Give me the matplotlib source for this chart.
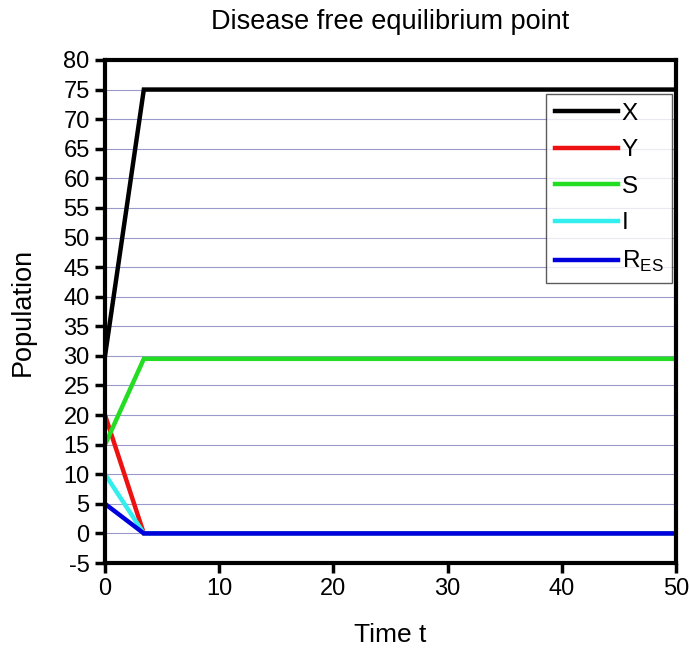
import matplotlib
matplotlib.use("Agg")
import matplotlib.pyplot as plt

plt.rcParams["font.family"] = ["Liberation Sans", "DejaVu Sans"]
plt.rcParams["axes.unicode_minus"] = False

# time points: start, equilibrium reached, end
t = [0, 3.4, 50]
X = [30, 75, 75]
Y = [20, 0, 0]
S = [15, 29.5, 29.5]
I = [10, 0, 0]
R_ES = [5, 0, 0]

series = [
    (X, "#000000", "X"),
    (Y, "#ee1111", "Y"),
    (S, "#22dd22", "S"),
    (I, "#33eeee", "I"),
    (R_ES, "#0000dd", r"R$_{\mathregular{ES}}$"),
]

fig = plt.figure(figsize=(6.89, 6.49), dpi=100)
ax = fig.add_axes([0.1524, 0.1325, 0.8286, 0.7751])

for y in range(-5, 81, 5):
    ax.axhline(y, color="#9999cc", lw=0.8, zorder=0)

for vals, col, lab in series:
    ax.plot(t, vals, color=col, lw=3.2, label=lab, solid_joinstyle="miter")

ax.set_xlim(0, 50)
ax.set_ylim(-5, 80)
ax.set_xticks(range(0, 51, 10))
ax.set_yticks(range(-5, 81, 5))
ax.tick_params(direction="out", width=2.5, length=7, labelsize=17, pad=4)
for sp in ax.spines.values():
    sp.set_linewidth(3)

ax.set_title("Disease free equilibrium point", fontsize=19.5, pad=22)
ax.set_xlabel("Time t", fontsize=19, labelpad=16)
ax.set_ylabel("Population", fontsize=19.5, labelpad=20)

leg = ax.legend(loc="upper right", bbox_to_anchor=(0.993, 0.932), fontsize=17.5,
                frameon=True, fancybox=False, edgecolor="#333333",
                handlelength=2.6, handletextpad=0.15, labelspacing=0.6,
                borderpad=0.35, borderaxespad=0)
leg.get_frame().set_linewidth(1.0)

fig.savefig("out.png", dpi=100)
